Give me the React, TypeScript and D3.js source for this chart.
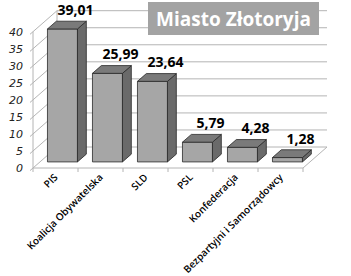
import React from "react";
import * as d3 from "d3";

const categories = ["PIS", "Koalicja Obywatelska", "SLD", "PSL", "Konfederacja", "Bezpartyjni i Samorządowcy"];
const values = [39.01, 25.99, 23.64, 5.79, 4.28, 1.28];
const valueLabels = ["39,01", "25,99", "23,64", "5,79", "4,28", "1,28"];
const yTicks = [0, 5, 10, 15, 20, 25, 30, 35, 40];
const title = "Miasto Złotoryja";

const W = 351, H = 276;
const x0 = 33, x1 = 303, floorY = 168;
const DX = 24, DY = -21; // full depth
const f1 = 0.29, f2 = 0.66; // bar depth fractions

export default function App() {
  const y = d3.scaleLinear().domain([0, 40]).range([floorY, 31.7]);
  const x = d3.scaleBand<string>().domain(categories).range([x0, x1]).paddingInner(0).paddingOuter(0);
  const bw = 30;
  const grid = "#b4b4b4";
  const fx = DX * f1, fy = DY * f1;
  const ddx = DX * (f2 - f1), ddy = DY * (f2 - f1);

  return (
    <div style={{ position: "absolute", left: 0, top: 0 }}>
      <svg width={W} height={H} style={{ display: "block", background: "#fff" }}>
        {/* walls & gridlines */}
        {yTicks.map((t) => (
          <g key={t}>
            <line x1={x0} y1={y(t)} x2={x0 + DX} y2={y(t) + DY} stroke={grid} strokeWidth={1} />
            <line x1={x0 + DX} y1={y(t) + DY} x2={x1 + DX} y2={y(t) + DY} stroke={grid} strokeWidth={1} />
            <line x1={x0 - 3} y1={y(t) + 2.6} x2={x0} y2={y(t)} stroke={grid} strokeWidth={1} />
            <text x={23} y={y(t)} dy="0.36em" textAnchor="end" fontFamily="DejaVu Sans" fontStyle="italic" fontSize={11} fill="#222">{t}</text>
          </g>
        ))}
        <line x1={x0 + DX} y1={y(0) + DY} x2={x0 + DX} y2={y(40) + DY} stroke={grid} />
        <line x1={x0} y1={floorY} x2={x0} y2={y(40)} stroke={grid} />
        <line x1={x0} y1={floorY} x2={x1} y2={floorY} stroke={grid} />
        <line x1={x1} y1={floorY} x2={x1 + DX} y2={floorY + DY} stroke={grid} />
        {d3.range(categories.length + 1).map((i) => {
          const xx = x0 + i * x.bandwidth();
          return <line key={i} x1={xx} y1={floorY} x2={xx} y2={floorY + 4} stroke={grid} />;
        })}
        {/* bars */}
        {categories.map((c, i) => {
          const L = (x(c) as number) + (x.bandwidth() - bw) / 2 + fx;
          const R = L + bw;
          const B = floorY + fy;
          const T = y(values[i]) + fy;
          const top = `M${L},${T} L${R},${T} L${R + ddx},${T + ddy} L${L + ddx},${T + ddy} Z`;
          const side = `M${R},${T} L${R + ddx},${T + ddy} L${R + ddx},${B + ddy} L${R},${B} Z`;
          return (
            <g key={c} stroke="#2a2a2a" strokeWidth={0.8} strokeLinejoin="round">
              <rect x={L} y={T} width={bw} height={B - T} fill="#a6a6a6" />
              <path d={side} fill="#6a6a6a" />
              <path d={top} fill="#7a7a7a" />
            </g>
          );
        })}
        {/* value labels */}
        {categories.map((c, i) => {
          const cx = (x(c) as number) + x.bandwidth() / 2 + fx + 13;
          const T = y(values[i]) + fy;
          return (
            <text key={c} x={cx} y={T - 14} textAnchor="middle" fontFamily="Open Sans" fontWeight={700} fontSize={14} fill="#000">{valueLabels[i]}</text>
          );
        })}
        {/* category labels */}
        {categories.map((c) => {
          const cx = (x(c) as number) + x.bandwidth() / 2 + 3;
          return (
            <text key={c} transform={`translate(${cx},${178}) rotate(-45)`} textAnchor="end" fontFamily="Open Sans" fontWeight={600} fontSize={10} fill="#000">{c}</text>
          );
        })}
        {/* title */}
        <rect x={148} y={2} width={171} height={33} fill="#a3a3a3" />
        <text x={233.5} y={26} textAnchor="middle" fontFamily="Open Sans" fontWeight={700} fontSize={19} fill="#fff">{title}</text>
      </svg>
    </div>
  );
}
